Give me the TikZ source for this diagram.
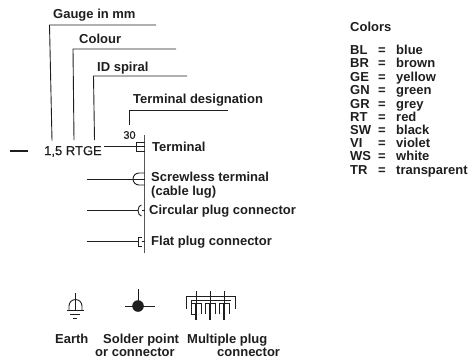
\documentclass[tikz,border=0pt]{standalone}
\usepackage{fontspec}
\setmainfont{Liberation Sans}
\newfontfamily\medfont[FakeBold=0.25]{Liberation Sans}
\definecolor{ink}{HTML}{1E1E1E}
\tikzset{
  lab/.style={anchor=west,inner sep=0pt,text=ink,text height=9.3pt,text depth=0pt,font=\fontsize{13}{13}\selectfont\bfseries},
  plain/.style={anchor=west,inner sep=0pt,text=ink,text height=9.3pt,text depth=0pt,font=\fontsize{13}{13}\medfont},
  small/.style={anchor=center,inner sep=0pt,text=ink,font=\fontsize{11}{11}\medfont},
  wire/.style={draw=ink,line width=0.9pt},
  thin wire/.style={draw=ink,line width=0.7pt},
  heavy/.style={draw=ink,line width=1.8pt},
  bus/.style={draw=ink!75,line width=1pt}
}
\begin{document}
\begin{tikzpicture}[x=1pt,y=-1pt]
\useasboundingbox (0,0) rectangle (470,360);
% text
\node[lab] (gauge) at (53,14) {Gauge in mm};
\node[lab] (colour) at (79,39) {Colour};
\node[lab] (idsp) at (97,67) {ID spiral};
\node[lab] (tdes) at (133,99) {Terminal designation};
\node[small] (n30) at (129.5,135) {30};
\node[plain] (cable) at (44,150.5) {1,5 RTGE};
\node[lab] (term) at (152,146.5) {Terminal};
\node[lab] (scr) at (151,177) {Screwless terminal};
\node[lab] (lug) at (151,191) {(cable lug)};
\node[lab] (circ) at (149,209.5) {Circular plug connector};
\node[lab] (flat) at (151,241) {Flat plug connector};
% leader lines
\coordinate (g1) at (49.5,25); \coordinate (g2) at (156,25); \coordinate (g3) at (52,140.5);
\coordinate (c1) at (73,49); \coordinate (c2) at (176,49); \coordinate (c3) at (74,140);
\coordinate (i1) at (93.5,76); \coordinate (i2) at (187,76); \coordinate (i3) at (94.5,140);
\coordinate (t1) at (129,110.5); \coordinate (t2) at (228,110.5); \coordinate (t3) at (129,125);
\draw[wire] (g3) -- (g1) -- (g2);
\draw[wire] (c3) -- (c1) -- (c2);
\draw[wire] (i3) -- (i1) -- (i2);
\draw[thin wire] (t3) -- (t1) -- (t2);
% bus
\coordinate (b1) at (144.5,135); \coordinate (b2) at (144.5,253);
\draw[bus] (b1) -- (b2);
\coordinate (dash1) at (10,151); \coordinate (dash2) at (28,151);
\draw[wire,line width=1.1pt] (dash1) -- (dash2);
% terminal
\coordinate (tb) at (144.5,146.5); \coordinate (ts) at (104,146.5);
\draw[wire] (ts) -- (tb);
\draw[wire] (144.5,142.5) -- (136.5,142.5) -- (136.5,151) -- (144.5,151);
% screwless
\coordinate (s1) at (87,179); \coordinate (s2) at (144.5,179);
\draw[wire] (s1) -- (s2);
\draw[wire] (144.5,173) -- (139,173) arc[start angle=270,end angle=90,x radius=6,y radius=6] -- (144.5,185);
% circular
\coordinate (cp1) at (87,210.5); \coordinate (cp2) at (137.5,210.5);
\draw[thin wire] (cp1) -- (cp2);
\draw[wire] (141.5,205) arc[start angle=270,end angle=90,x radius=3.5,y radius=5.5];
\draw[thin wire] (142,210.5) -- (144.5,210.5);
% flat
\coordinate (f1) at (87,241.5); \coordinate (f2) at (137.5,241.5);
\draw[thin wire] (f1) -- (f2);
\draw[wire] (141.5,237) -- (138.5,237) -- (138.5,246) -- (141.5,246);
\draw[thin wire] (141.5,241.5) -- (144.5,241.5);
% earth
\draw[wire] (75,293) -- (75,310);
\draw[wire] (69,310) -- (69,306) arc[start angle=180,end angle=360,radius=6.5] -- (82,310);
\draw[wire] (67,310) -- (84,310);
\draw[wire] (70,314.5) -- (80,314.5);
\draw[wire,line width=1.1pt] (73,318.5) -- (77,318.5);
% solder
\fill[ink] (138,306) circle[radius=5.8];
\draw[wire] (138,289) -- (138,306);
\draw[wire] (125,306) -- (155,306);
% multiple plug
\draw[wire] (186,309) -- (186,296) -- (235,296) -- (235,309);
\draw[thin wire] (191,306) -- (191,300) -- (231,300);
\foreach \x in {196,210,224}{
  \draw[wire] (\x,291) -- (\x,304);
  \draw[heavy] (\x,304) -- (\x,320);
  \draw[wire] (\x-5,314) -- (\x-5,303.5) -- (\x+5,303.5) -- (\x+5,314);
}
\draw[thin wire] (191,314) -- (196,314);
% bottom labels
\node[lab] (earth) at (55,339) {Earth};
\node[lab] (solder) at (103,339) {Solder point};
\node[lab] (orc) at (95,352) {or connector};
\node[lab] (mult) at (187,339) {Multiple plug};
\node[lab] (conn) at (217,352) {connector};
% colours
\node[lab] (coltitle) at (350,27) {Colors};
\foreach \k/\v/\y in {BL/blue/50,BR/brown/63.3,GE/yellow/76.7,GN/green/90,GR/grey/103.5,RT/red/116.5,SW/black/129.5,VI/violet/143,WS/white/156,TR/transparent/169.5}{
  \node[lab] (k\k) at (350,\y) {\k};
  \node[lab,anchor=center] (e\k) at (382,\y) {=};
  \node[lab] (v\k) at (396,\y) {\v};
}
\end{tikzpicture}
\end{document}
